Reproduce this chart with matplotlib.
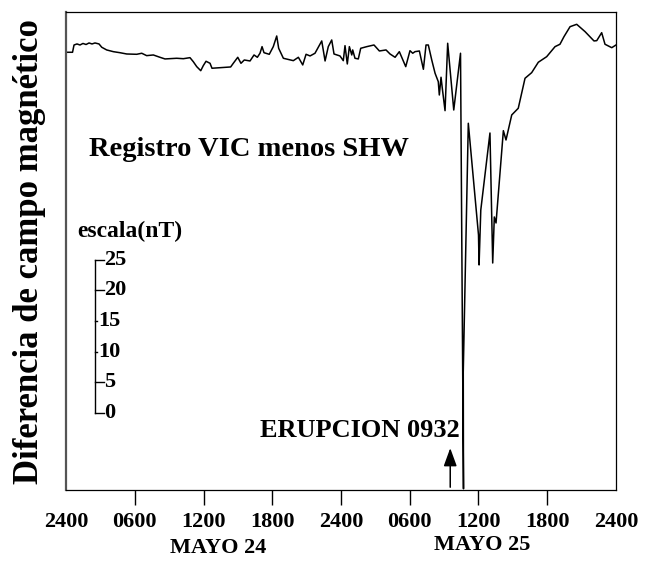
import matplotlib
matplotlib.use("Agg")
import matplotlib.pyplot as plt

# time in hours from 2400 of May 23, difference in nT (offset so that the axis starts at 0)
HOURS = [
    0.00, 0.57, 0.70, 0.96, 1.22, 1.48, 1.75, 2.01, 2.27, 2.53, 2.88, 3.12, 3.55, 4.13,
    4.71, 5.30, 6.17, 6.61, 7.04, 7.62, 8.20, 8.64, 9.66, 10.24, 10.82, 11.11, 11.41,
    11.76, 11.98, 12.22, 12.57, 12.74, 13.44, 14.37, 14.60, 14.99, 15.27, 15.56, 16.06,
    16.41, 16.70, 16.93, 17.11, 17.28, 17.74, 18.09, 18.39, 18.56, 18.97, 19.84, 20.28,
    20.66, 20.95, 21.30, 21.73, 22.32, 22.61, 22.89, 23.19, 23.39, 23.91, 24.20, 24.35,
    24.55, 24.73, 24.94, 25.02, 25.22, 25.51, 25.72, 26.25, 26.88, 27.35, 27.93, 28.28,
    28.72, 29.09, 29.30, 29.65, 30.02, 30.26, 30.46, 30.84, 31.19, 31.42, 31.62, 31.92,
    32.21, 32.49, 32.58, 32.73, 32.84, 33.08, 33.31, 33.84, 34.43, 34.69, 34.67, 35.11,
    36.00, 36.05, 36.20, 37.00, 37.24, 37.38, 37.53, 38.17, 38.40, 38.90, 39.47, 40.06,
    40.64, 41.22, 41.95, 42.68, 43.11, 43.46, 43.99, 44.57, 45.30, 46.08, 46.32, 46.75,
    47.04, 47.63, 48.00,
]
DIFF_NT = [
    71.52, 71.52, 72.71, 72.88, 72.71, 72.96, 72.79, 73.04, 72.88, 73.04, 72.88, 72.34,
    71.90, 71.62, 71.45, 71.24, 71.19, 71.36, 70.97, 71.08, 70.70, 70.43, 70.54, 70.47,
    70.64, 69.98, 69.17, 68.51, 69.33, 70.05, 69.72, 68.91, 69.00, 69.12, 69.72, 70.70,
    69.72, 70.26, 70.10, 71.08, 70.70, 71.36, 72.44, 71.45, 71.19, 72.44, 74.18, 72.17,
    70.54, 70.15, 70.70, 69.45, 71.19, 70.92, 71.36, 73.37, 70.10, 72.44, 73.53, 71.24,
    70.92, 70.15, 72.60, 69.61, 72.44, 71.08, 71.90, 70.54, 70.43, 72.17, 72.44, 72.71,
    71.73, 71.90, 71.24, 70.70, 71.62, 70.70, 69.17, 71.78, 71.36, 71.62, 71.73, 68.74,
    72.71, 72.71, 70.26, 68.09, 66.72, 64.54, 67.44, 65.64, 61.98, 72.99, 62.09, 71.36,
    0.20, 19.28, 59.92, 41.67, 36.77, 45.75, 58.33, 37.09, 44.61, 43.63, 58.71, 57.19,
    61.28, 62.37, 67.27, 68.19, 69.89, 70.80, 72.44, 72.83, 74.07, 75.70, 76.09, 74.89,
    73.37, 73.42, 74.72, 72.83, 72.27, 72.71,
]

TICK_HOURS = [0, 6, 12, 18, 24, 30, 36, 42, 48]
TICK_LABELS = ["2400", "0600", "1200", "1800", "2400", "0600", "1200", "1800", "2400"]

SCALE_VALUES = [0, 5, 10, 15, 20, 25]
ERUPTION_HOUR = 24 + 9 + 32 / 60

FONT = "Liberation Serif"


def main():
    fig = plt.figure(figsize=(6.51, 5.63), dpi=100)
    ax = fig.add_axes([66 / 651, 73 / 563, 550 / 651, 478 / 563])

    ax.plot(HOURS, DIFF_NT, color="black", lw=1.1)
    ax.set_xlim(0, 48)
    ax.set_ylim(0, 78.1)

    ax.set_yticks([])
    ax.set_xticks(TICK_HOURS)
    ax.set_xticklabels(TICK_LABELS, fontfamily=FONT, fontweight="bold", fontsize=16)
    ax.tick_params(axis="x", direction="out", length=11, width=1, pad=5)
    ticks = ax.xaxis.get_major_ticks()
    ticks[0].tick1line.set_visible(False)
    ticks[-1].tick1line.set_visible(False)
    for side in ["top", "right", "bottom"]:
        ax.spines[side].set_linewidth(0.9)
    ax.spines["left"].set_linewidth(1.6)
    ax.spines["left"].set_color("#555555")

    # scale bar
    x0 = 2.53
    ax.plot([x0, x0], [12.6, 12.6 + 25], color="black", lw=1)
    for v in SCALE_VALUES:
        yv = 12.6 + v
        short = v in (10, 15)
        tick_len = 0.2 if short else 0.75
        ax.plot([x0, x0 + tick_len], [yv, yv], color="black", lw=1)
        ax.text(x0 + tick_len + 0.05, yv, str(v), ha="left", va="center",
                fontfamily=FONT, fontweight="bold", fontsize=16)
    ax.text(0.96, 42.2, "escala(nT)", ha="left", va="center",
            fontfamily=FONT, fontweight="bold", fontsize=17)

    ax.text(2.05, 55.6, "Registro VIC menos SHW", ha="left", va="center",
            fontfamily=FONT, fontweight="bold", fontsize=20.5)

    ax.annotate("", xy=(ERUPTION_HOUR, 7.3), xytext=(ERUPTION_HOUR, 0),
                arrowprops=dict(arrowstyle="-|>,head_length=1.1,head_width=0.4",
                                color="black", lw=1.1))
    ax.text(34.4, 9.8, "ERUPCION 0932", ha="right", va="center",
            fontfamily=FONT, fontweight="bold", fontsize=19)

    fig.text(218 / 651, 1 - 548 / 563, "MAYO 24", ha="center", va="center",
             fontfamily=FONT, fontweight="bold", fontsize=16)
    fig.text(482 / 651, 1 - 545 / 563, "MAYO 25", ha="center", va="center",
             fontfamily=FONT, fontweight="bold", fontsize=16)
    fig.text(30 / 651, 1 - 252 / 563, "Diferencia de campo magnético",
             rotation=90, ha="center", va="center",
             fontfamily=FONT, fontweight="bold", fontsize=25)

    fig.savefig("out.png", dpi=100)


if __name__ == "__main__":
    main()
